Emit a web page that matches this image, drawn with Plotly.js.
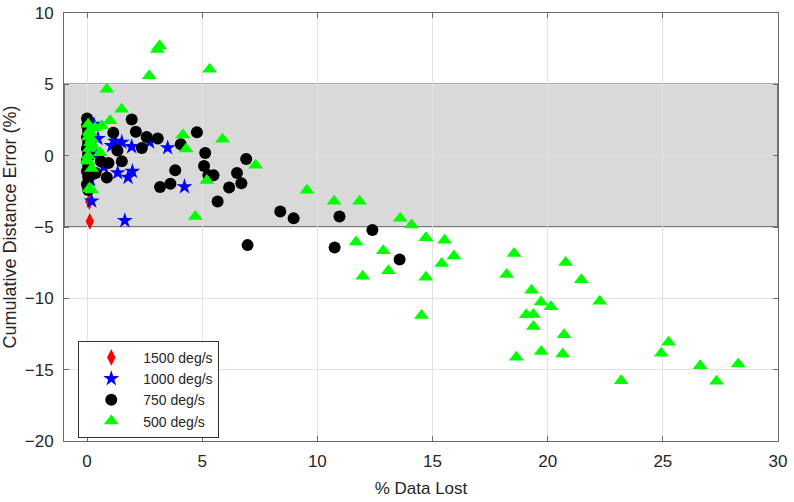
<!DOCTYPE html>
<html>
<head>
<meta charset="utf-8">
<script src="https://cdn.plot.ly/plotly-3.0.1.min.js"></script>
<style>html,body{margin:0;padding:0;background:#fff;}#chart{width:794px;height:502px;}</style>
</head>
<body>
<div id="chart"></div>
<script>
// 1500 deg/s (red diamonds)
var x1500 = [0.02, 0.0, 0.05, 0.1, 0.12];
var y1500 = [-1.55, -1.85, -2.2, -3.22, -4.6];

// 1000 deg/s (blue stars)
var x1000 = [0.47, 1.22, 1.51, 1.07, 1.94, 2.72, 3.5, 0.73, 1.33, 1.97, 1.78, 4.23, 0.15, 0.2, 1.64, 0.38, 0.3];
var y1000 = [1.2, 1.0, 0.94, 0.7, 0.63, 0.95, 0.55, -0.8, -1.2, -1.1, -1.52, -2.18, -1.69, -3.18, -4.55, 0.05, 2.2];

// 750 deg/s (black circles)
var x750 = [0.0, 0.0, 0.05, 0.0, 0.05, 0.0, 0.05, 0.0, 0.05, 0.0, 0.05, 0.0, 0.05, 0.37, 0.6,
            1.94, 2.12, 1.14, 2.59, 3.07, 2.38, 1.32, 4.77, 4.07, 5.13, 5.08, 1.51, 0.93, 0.86,
            3.83, 3.62, 3.17, 5.27, 5.49, 5.67, 6.17, 6.51, 6.7, 6.91, 8.39, 8.97, 10.96, 12.39,
            10.75, 13.57, 6.97];
var y750 = [2.6, 2.1, 1.7, 1.3, 0.9, 0.5, 0.1, -0.3, -0.7, -1.1, -1.5, -2.0, -2.4, -1.22, -0.4,
            2.54, 1.67, 1.6, 1.31, 1.2, 0.54, 0.37, 1.64, 0.8, 0.19, -0.72, -0.4, -0.52, -1.53,
            -1.03, -1.97, -2.2, -1.38, -1.38, -3.22, -2.23, -1.22, -1.93, -0.23, -3.92, -4.39, -4.27, -5.21,
            -6.43, -7.28, -6.27];

// 500 deg/s (green triangles)
var x500 = [3.15, 3.05, 2.7, 5.32, 0.86, 1.5, 1.0, 0.64, 0.35, 0.13, 0.2, 0.27, 0.57, 0.0, 0.06,
            0.13, 0.2, 4.16, 4.3, 5.88, 7.32, 5.2, 4.7,
            0.05, 0.1, 0.05, 0.15, 0.1, 0.05, 0.2, 0.1,
            9.55, 10.73, 11.83, 11.68, 13.6, 14.09, 14.71, 15.52, 15.93, 15.4, 12.86, 13.09, 11.97, 14.71, 14.52,
            18.54, 20.78, 18.22, 21.46, 19.3, 22.26, 19.71, 20.14, 19.07, 19.38, 19.38, 20.71, 19.72, 20.65, 18.64,
            23.19, 25.25, 24.93, 26.62, 27.33, 28.27];
var y500 = [7.7, 7.45, 5.6, 6.05, 4.65, 3.25, 2.45, 2.1, 1.95, 1.6, 1.15, 0.65, 0.2, -0.3, -0.4,
            -2.3, -2.4, 1.45, 0.47, 1.15, -0.68, -1.74, -4.27,
            2.2, 1.7, 1.3, 0.9, 0.5, 0.0, -0.9, -2.3,
            -2.42, -3.2, -3.2, -6.05, -4.39, -4.86, -5.75, -5.92, -7.04, -7.56, -6.67, -8.07, -8.45, -8.52, -11.2,
            -6.85, -7.49, -8.33, -8.69, -9.44, -10.21, -10.26, -10.59, -11.15, -11.13, -11.97, -12.56, -13.73, -13.9, -14.13,
            -15.77, -13.07, -13.85, -14.72, -15.82, -14.6];

var xTicks = [0, 5, 10, 15, 20, 25, 30];
var yTicks = [-20, -15, -10, -5, 0, 5, 10];
var bandLow = -5, bandHigh = 5;

var traces = [
  {x: x1500, y: y1500, mode: 'markers', type: 'scatter', name: '1500 deg/s',
   marker: {symbol: 'diamond-tall', size: 12, color: '#ff0000'}},
  {x: x1000, y: y1000, mode: 'markers', type: 'scatter', name: '1000 deg/s',
   marker: {symbol: 'star', size: 12, color: '#0000ff'}},
  {x: x750, y: y750, mode: 'markers', type: 'scatter', name: '750 deg/s',
   marker: {symbol: 'circle', size: 12, color: '#000000'}},
  {x: x500, y: y500, mode: 'markers', type: 'scatter', name: '500 deg/s',
   marker: {symbol: 'triangle-up', size: 13, color: '#00ff00'}}
];

var axisCommon = {
  showline: true, linecolor: '#6a6a6a', linewidth: 1, mirror: 'allticks',
  ticks: 'inside', ticklen: 5, tickcolor: '#6a6a6a', tickwidth: 1,
  showgrid: true, gridcolor: '#e3e3e3', gridwidth: 1, zeroline: false,
  tickfont: {family: 'Liberation Sans, Arial, sans-serif', size: 17, color: '#262626'},
  automargin: false
};

var layout = {
  width: 794, height: 502,
  margin: {l: 64, r: 16, t: 13, b: 61},
  paper_bgcolor: '#fff', plot_bgcolor: '#fff',
  font: {family: 'Liberation Sans, Arial, sans-serif', color: '#262626'},
  xaxis: Object.assign({}, axisCommon, {
    range: [-1, 30], tickvals: xTicks, ticklabelstandoff: 5,
    title: {text: '% Data Lost', font: {size: 17, color: '#262626'}, standoff: 11}
  }),
  yaxis: Object.assign({}, axisCommon, {
    range: [-20, 10], tickvals: yTicks, ticklabelstandoff: 6,
    title: {text: 'Cumulative Distance Error (%)', font: {size: 18, color: '#262626'}, standoff: 3}
  }),
  shapes: [{
    type: 'rect', xref: 'paper', yref: 'y', x0: 0, x1: 1, y0: bandLow, y1: bandHigh,
    fillcolor: '#d9d9d9', line: {color: '#555', width: 1.5}, layer: 'below'
  }],
  showlegend: true,
  legend: {
    x: 0.02, y: 0.234, xanchor: 'left', yanchor: 'top',
    bgcolor: '#fff', bordercolor: '#333', borderwidth: 1,
    font: {size: 14, color: '#262626'}, itemwidth: 54, tracegroupgap: 0
  }
};

Plotly.newPlot('chart', traces, layout, {displayModeBar: false, staticPlot: true});
</script>
</body>
</html>
